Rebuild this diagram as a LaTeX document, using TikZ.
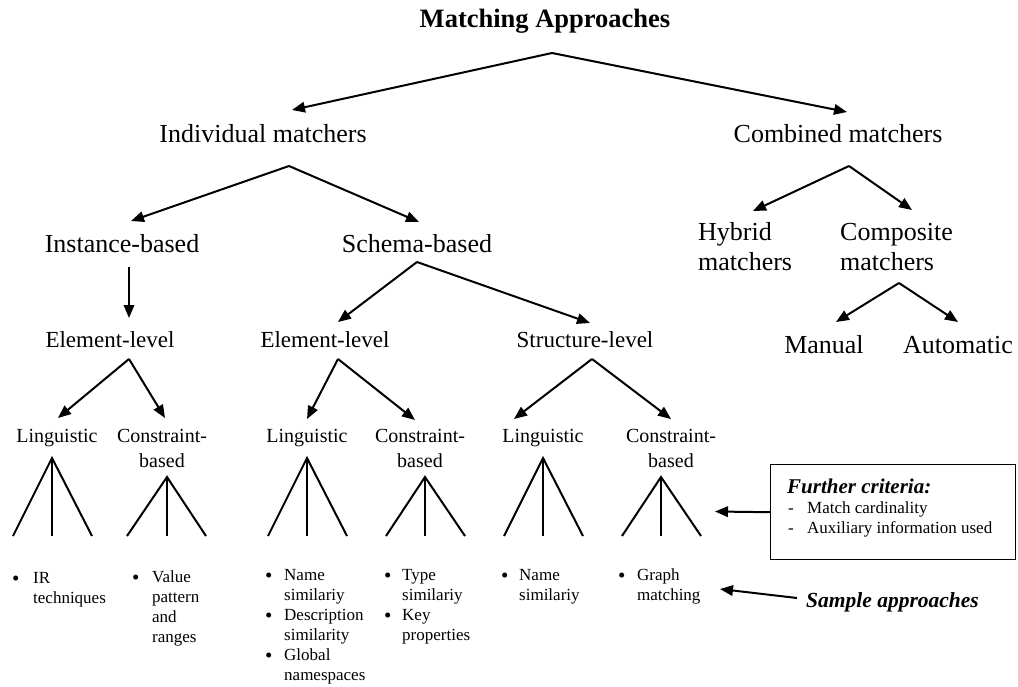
\documentclass[tikz,border=0pt]{standalone}
\usepackage{fontspec}
\setmainfont{Liberation Serif}
\usetikzlibrary{arrows.meta}
\newcommand\bul{\raisebox{-2.5pt}{\fontsize{21}{20}\selectfont\textbullet}}
\begin{document}
\begin{tikzpicture}[x=1pt,y=-1pt,
  arr/.style={line width=2pt,-{Triangle[length=13pt,width=10.5pt]}},
  fan/.style={line width=2pt},
  lbl/.style={inner sep=0pt,anchor=base},
  big/.style={lbl,font=\fontsize{26}{30}\selectfont},
  midl/.style={lbl,font=\fontsize{23}{27}\selectfont},
  sml/.style={lbl,font=\fontsize{20}{25}\selectfont},
  itm/.style={inner sep=0pt,anchor=base west,font=\fontsize{17}{20}\selectfont},
  emph/.style={inner sep=0pt,anchor=base west,font=\bfseries\itshape\fontsize{21}{25}\selectfont},
]
\useasboundingbox (0,0) rectangle (1018,686);

% labels
\node[lbl,font=\bfseries\fontsize{26.5}{30}\selectfont] (title) at (545,27) {Matching Approaches};
\node[big] (ind) at (263,142) {Individual matchers};
\node[big] (comb) at (838,142) {Combined matchers};
\node[big] (inst) at (122,252) {Instance-based};
\node[big] (schema) at (417,252) {Schema-based};
\node[big,anchor=base west] (hyb) at (698,240) {\begin{tabular}[t]{@{}l@{}}Hybrid\\matchers\end{tabular}};
\node[big,anchor=base west] (compo) at (840,240) {\begin{tabular}[t]{@{}l@{}}Composite\\matchers\end{tabular}};
\node[big] (manual) at (824,353) {Manual};
\node[big] (auto) at (958,353) {Automatic};
\node[midl] (el1) at (110,347) {Element-level};
\node[midl] (el2) at (325,347) {Element-level};
\node[midl] (struct) at (585,347) {Structure-level};
\node[sml] (ling1) at (57,442) {Linguistic};
\node[sml] (ling2) at (307,442) {Linguistic};
\node[sml] (ling3) at (543,442) {Linguistic};
\node[sml] (con1) at (162,442) {\begin{tabular}[t]{@{}c@{}}Constraint-\\based\end{tabular}};
\node[sml] (con2) at (420,442) {\begin{tabular}[t]{@{}c@{}}Constraint-\\based\end{tabular}};
\node[sml] (con3) at (671,442) {\begin{tabular}[t]{@{}c@{}}Constraint-\\based\end{tabular}};

% arrow coordinates
\coordinate (tA) at (552,53);
\coordinate (iA) at (289,166);
\coordinate (cA) at (849,166);
\coordinate (instA) at (129,267);
\coordinate (sA) at (417,262);
\coordinate (coA) at (899,283);
\coordinate (e1A) at (129,359);
\coordinate (e2A) at (338,359);
\coordinate (stA) at (592,359);
\coordinate (indT) at (292,110);
\coordinate (combT) at (847,112);
\coordinate (instT) at (131,221);
\coordinate (schT) at (419,222);
\coordinate (hybT) at (753,211);
\coordinate (compT) at (912,210);
\coordinate (e1T) at (129,318);
\coordinate (e2T) at (338,322);
\coordinate (stT) at (590,323);
\coordinate (manT) at (836,322);
\coordinate (autT) at (958,322);
\coordinate (l1T) at (58,418);
\coordinate (c1T) at (165,418);
\coordinate (l2T) at (307,419);
\coordinate (c2T) at (415,420);
\coordinate (l3T) at (514,419);
\coordinate (c3T) at (671,419);

\draw[arr] (tA) -- (indT);
\draw[arr] (tA) -- (combT);
\draw[arr] (iA) -- (instT);
\draw[arr] (iA) -- (schT);
\draw[arr] (cA) -- (hybT);
\draw[arr] (cA) -- (compT);
\draw[arr] (instA) -- (e1T);
\draw[arr] (sA) -- (e2T);
\draw[arr] (sA) -- (stT);
\draw[arr] (coA) -- (manT);
\draw[arr] (coA) -- (autT);
\draw[arr] (e1A) -- (l1T);
\draw[arr] (e1A) -- (c1T);
\draw[arr] (e2A) -- (l2T);
\draw[arr] (e2A) -- (c2T);
\draw[arr] (stA) -- (l3T);
\draw[arr] (stA) -- (c3T);

% fans
\foreach \ax/\ay/\l/\r in {52/458/13/92, 167/477/127/206, 307/458/268/347, 425/477/386/465, 543/458/504/583, 661/477/622/701}{
  \draw[fan] (\l,536) -- (\ax,\ay) -- (\r,536);
  \draw[fan] (\ax,\ay) -- (\ax,536);
}

% sample lists
\node[itm] (s1) at (12,583) {\begin{tabular}[t]{@{}p{21pt}@{}l@{}}\bul & IR\\ & techniques\end{tabular}};
\node[itm] (s2) at (132,582) {\begin{tabular}[t]{@{}p{20pt}@{}l@{}}\bul & Value\\ & pattern\\ & and\\ & ranges\end{tabular}};
\node[itm] (s3) at (265,580) {\begin{tabular}[t]{@{}p{19pt}@{}l@{}}\bul & Name\\ & similariy\\ \bul & Description\\ & similarity\\ \bul & Global\\ & namespaces\end{tabular}};
\node[itm] (s4) at (384,580) {\begin{tabular}[t]{@{}p{18pt}@{}l@{}}\bul & Type\\ & similariy\\ \bul & Key\\ & properties\end{tabular}};
\node[itm] (s5) at (501,580) {\begin{tabular}[t]{@{}p{18pt}@{}l@{}}\bul & Name\\ & similariy\end{tabular}};
\node[itm] (s6) at (618,580) {\begin{tabular}[t]{@{}p{19pt}@{}l@{}}\bul & Graph\\ & matching\end{tabular}};

% further criteria box
\node[draw,line width=1.4pt,minimum width=245pt,minimum height=95pt,anchor=north west,inner sep=0pt] (box) at (770,464) {};
\node[emph] (fc) at (787,493) {Further criteria:};
\node[itm] (fcl) at (788,513) {\begin{tabular}[t]{@{}p{19pt}@{}l@{}}- & Match cardinality\\ - & Auxiliary information used\end{tabular}};
\coordinate (critT) at (715,511.5);
\draw[arr] (box.west) -- (critT);

% sample approaches
\node[emph,font=\bfseries\itshape\fontsize{21.5}{25}\selectfont] (samp) at (806,607) {Sample approaches};
\coordinate (sampS) at (797,598);
\coordinate (sampT) at (720,589);
\draw[arr] (sampS) -- (sampT);
\end{tikzpicture}
\end{document}
